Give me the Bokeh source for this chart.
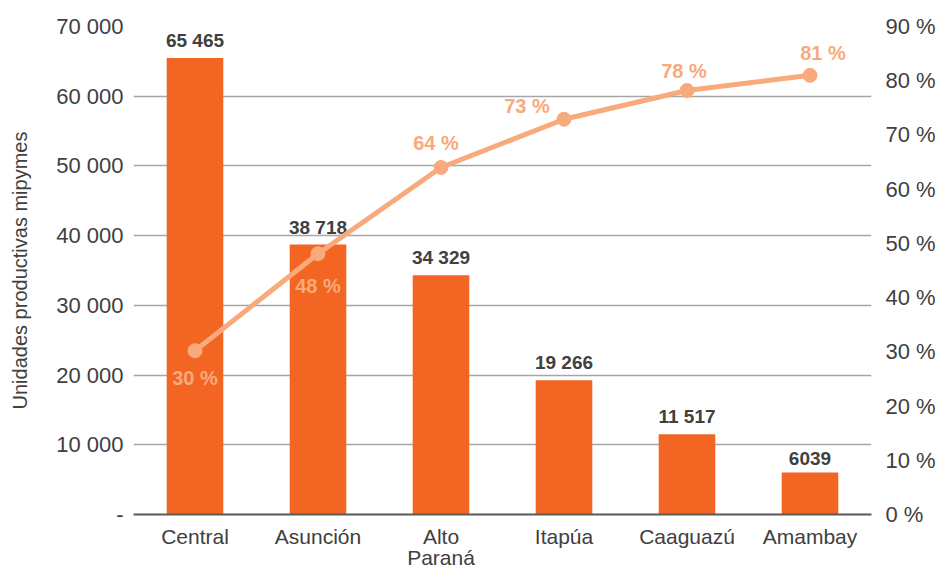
from bokeh.plotting import figure
from bokeh.models import (ColumnDataSource, Range1d, LinearAxis, FixedTicker, FactorRange)
from bokeh.core.properties import value
from bokeh.embed import file_html
from bokeh.resources import INLINE

categories = ["Central", "Asunción", "Alto\nParaná", "Itapúa", "Caaguazú", "Amambay"]
units = [65465, 38718, 34329, 19266, 11517, 6039]
unit_labels = ["65 465", "38 718", "34 329", "19 266", "11 517", "6039"]
cum_pct = [30.2, 48.1, 64.0, 72.9, 78.2, 81.0]
pct_labels = ["30 %", "48 %", "64 %", "73 %", "78 %", "81 %"]

left_ticks = [0, 10000, 20000, 30000, 40000, 50000, 60000, 70000]
left_tick_labels = ["-", "10 000", "20 000", "30 000", "40 000", "50 000", "60 000", "70 000"]
right_ticks = [0, 10, 20, 30, 40, 50, 60, 70, 80, 90]
right_tick_labels = ["0 %", "10 %", "20 %", "30 %", "40 %", "50 %", "60 %", "70 %", "80 %", "90 %"]

# label placement (style): pixel offsets of percentage labels relative to points
pct_dx = [0, 0, -5, -37, -3, 13]
pct_dy = [27, 32, -24, -13, -19, -22]

FONT = "Liberation Sans"
BAR = "#F26522"
LINE = "#F8AA7C"
TXT = "#404040"

p = figure(x_range=FactorRange(*categories, range_padding=0),
           y_range=Range1d(0, 70000),
           frame_width=738, frame_height=488,
           min_border_left=133, min_border_right=63, min_border_top=26, min_border_bottom=40,
           output_backend="svg", toolbar_location=None, tools="")
p.extra_y_ranges = {"pct": Range1d(0, 90)}
p.outline_line_color = None
p.background_fill_color = "white"
p.border_fill_color = "white"

src = ColumnDataSource(dict(cat=categories, units=units, ulab=unit_labels,
                            pct=cum_pct, plab=pct_labels, dx=pct_dx, dy=pct_dy))

p.vbar(x="cat", top="units", width=0.46, source=src, color=BAR, line_color=None)
p.text(x="cat", y="units", text="ulab", source=src, y_offset=-7,
       text_align="center", text_baseline="bottom", text_font=value(FONT),
       text_font_style="bold", text_font_size="19px", text_color=TXT)

p.line(x="cat", y="pct", source=src, y_range_name="pct", line_color=LINE, line_width=5)
p.scatter(x="cat", y="pct", source=src, y_range_name="pct", size=14,
          fill_color=LINE, line_color=LINE)
p.text(x="cat", y="pct", text="plab", source=src, y_range_name="pct",
       x_offset="dx", y_offset="dy", text_align="center", text_baseline="middle",
       text_font=value(FONT), text_font_style="bold", text_font_size="20px",
       text_color=LINE)

# grid
p.xgrid.visible = False
p.ygrid.ticker = FixedTicker(ticks=left_ticks[1:])
p.ygrid.grid_line_color = "#A6A6A6"
p.ygrid.grid_line_width = 1.5

# left axis
ya = p.yaxis[0]
ya.ticker = FixedTicker(ticks=left_ticks)
ya.major_label_overrides = {t: l for t, l in zip(left_ticks, left_tick_labels)}
ya.axis_line_color = None
ya.major_tick_line_color = None
ya.minor_tick_line_color = None
ya.major_label_standoff = 4
ya.major_label_text_font = FONT
ya.major_label_text_font_size = "22px"
ya.major_label_text_color = TXT
ya.axis_label = "Unidades productivas mipymes"
ya.axis_label_text_font = FONT
ya.axis_label_text_font_size = "20px"
ya.axis_label_text_font_style = "normal"
ya.axis_label_text_color = TXT
ya.axis_label_standoff = 22

# right axis
ra = LinearAxis(y_range_name="pct", ticker=FixedTicker(ticks=right_ticks))
ra.major_label_overrides = {t: l for t, l in zip(right_ticks, right_tick_labels)}
ra.axis_line_color = None
ra.major_tick_line_color = None
ra.minor_tick_line_color = None
ra.major_label_standoff = 8
ra.major_label_text_font = FONT
ra.major_label_text_font_size = "22px"
ra.major_label_text_color = TXT
p.add_layout(ra, "right")

# bottom axis
xa = p.xaxis[0]
xa.axis_line_color = "#595959"
xa.axis_line_width = 2
xa.major_tick_line_color = None
xa.minor_tick_line_color = None
xa.major_label_standoff = 4
xa.major_label_text_font = FONT
xa.major_label_text_font_size = "21px"
xa.major_label_text_color = TXT
xa.major_label_text_line_height = 0.95

open("out.html", "w").write(file_html(p, INLINE))
